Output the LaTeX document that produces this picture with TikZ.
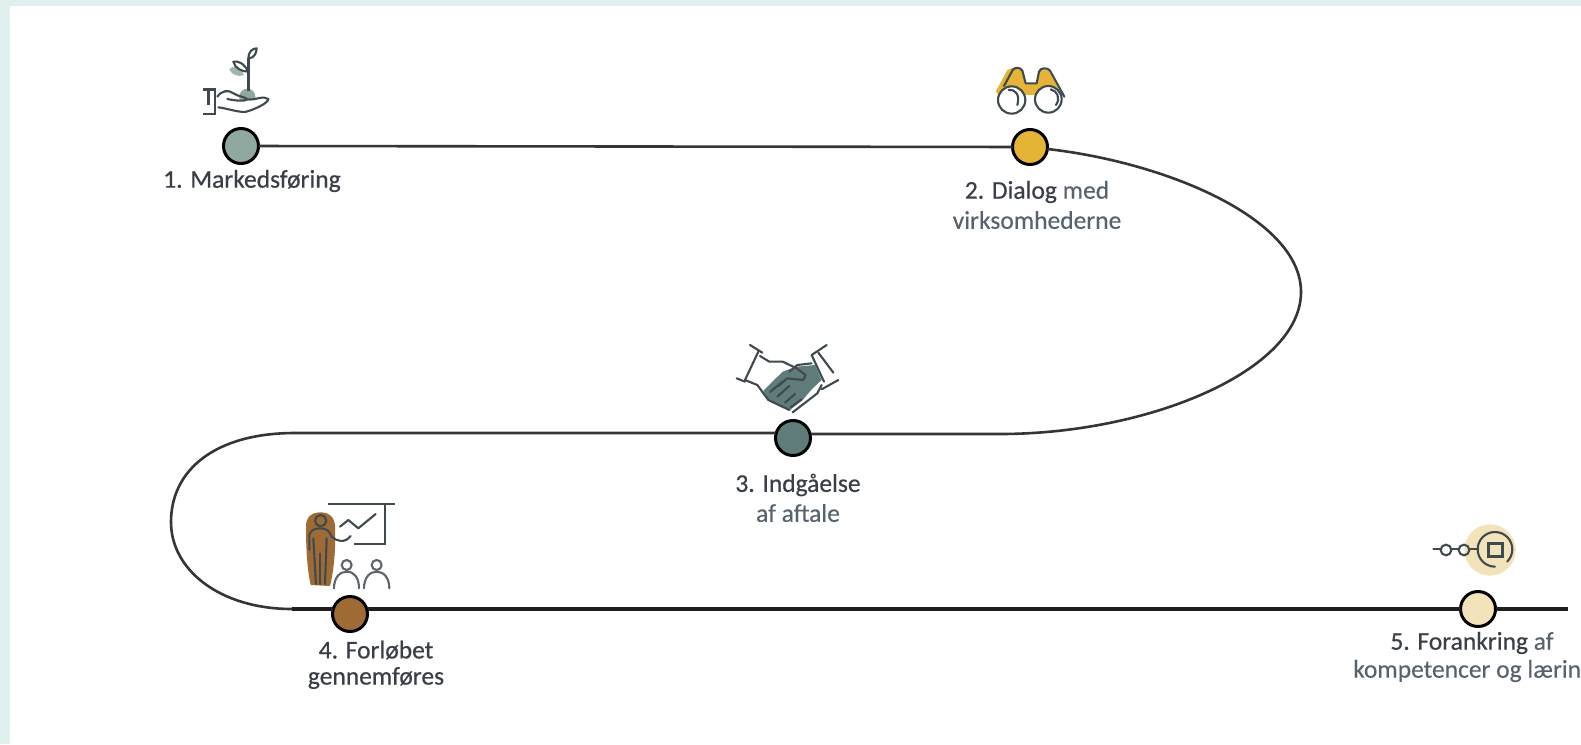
\documentclass[tikz,border=0pt]{standalone}
\usepackage{fontspec}
\setmainfont{Carlito}
\newfontfamily\handA{Carlito}[FakeBold=0.5]
\newfontfamily\handB{Carlito}[FakeBold=0.2]
\definecolor{bgteal}{HTML}{DFF0EE}
\definecolor{inkline}{HTML}{333536}
\definecolor{icon}{HTML}{3F4A4E}
\definecolor{txtA}{HTML}{3A3F47}
\definecolor{txtB}{HTML}{56626E}
\definecolor{sage}{HTML}{8FA8A0}
\definecolor{gold}{HTML}{E5B437}
\definecolor{petrol}{HTML}{5F7C7B}
\definecolor{brown}{HTML}{9E6B35}
\definecolor{cream}{HTML}{F3E3BA}
\tikzset{
  stage/.style={circle,draw=black,line width=3pt,minimum size=35pt,inner sep=0pt,outer sep=0pt},
  thinroute/.style={draw=inkline,line width=2.6pt},
  thickroute/.style={draw=black!88,line width=4.2pt},
  ic/.style={draw=icon,line width=2.1pt,line cap=round,line join=round},
  icb/.style={draw=icon,line width=2.9pt,line join=miter},
  lab/.style={font=\fontsize{25.5}{28}\selectfont,inner sep=0pt,anchor=center}
}
\newcommand{\SA}[1]{\textcolor{txtA}{\handA #1}}
\newcommand{\SB}[1]{\textcolor{txtB}{\handB #1}}
\begin{document}
\begin{tikzpicture}[x=1pt,y=-1pt]
\useasboundingbox (0,0) rectangle (1581,744);
\clip (0,0) rectangle (1581,744);
\fill[bgteal] (0,0) rectangle (1581,744);
\fill[white] (10,6) rectangle (1581,744);

% stages
\node[stage,fill=sage]   (n1) at (241,146) {};
\node[stage,fill=gold]   (n2) at (1030,147) {};
\node[stage,fill=petrol] (n3) at (793,438) {};
\node[stage,fill=brown]  (n4) at (350,614) {};
\node[stage,fill=cream]  (n5) at (1478,609) {};

% route
\coordinate (r1) at (1301,292);
\coordinate (r2) at (1000,434);
\coordinate (l0) at (295,433);
\coordinate (l1) at (171,522);
\coordinate (l2) at (292,609);
\coordinate (endp) at (1568,609);
\draw[thinroute] (n1) -- (n2);
\draw[thinroute] (n2) .. controls (1170,163) and (1301,220) .. (r1)
   .. controls (1301,370) and (1150,434) .. (r2) -- (r2 -| n3.east);
\draw[thinroute] (l0 -| n3.west) -- (l0)
   .. controls (215,433) and (171,470) .. (l1)
   .. controls (171,570) and (220,609) .. (l2);
\draw[thickroute,line cap=butt] (l2) -- (l2 -| n4.west);
\draw[thickroute] (l2 -| n4.east) -- (n5);
\draw[thickroute] (n5) -- (endp);

% labels
\node[lab] (t1) at (252,181) {\SA{1. Markedsføring}};
\node[lab] (t2a) at (1037,192) {\SA{2. Dialog} \SB{med}};
\node[lab] (t2b) at (1037,220) {\SB{virksomhederne}};
\node[lab] (t3a) at (798,485) {\SA{3. Indgåelse}};
\node[lab] (t3b) at (798,513) {\SB{af aftale}};
\node[lab] (t4a) at (376,650) {\SA{4. Forløbet}};
\node[lab] (t4b) at (376,678) {\SA{gennemføres}};
\node[lab] (t5a) at (1472,643) {\SA{5. Forankring} \SB{af}};
\node[lab,anchor=west] (t5b) at (1353,671) {\SB{kompetencer og læring}};

% icon 1: plant in a hand
\begin{scope}[shift={(140,30)},x=0.3333pt,y=-0.3333pt]
  \fill[sage!85] (268,118) .. controls (285,100) and (305,115) .. (312,135) .. controls (295,142) and (275,135) .. (268,118) -- cycle;
  \fill[sage] (298,200) arc[start angle=180,end angle=360,radius=24] -- (346,205) -- (298,212) -- cycle;
  \draw[icon,line width=2.8pt] (325,182) -- (325,85);
  \draw[ic] (325,85) .. controls (325,65) and (338,55) .. (350,55) .. controls (350,70) and (342,85) .. (325,85) -- cycle;
  \draw[ic] (325,125) .. controls (312,100) and (295,92) .. (280,95) .. controls (285,115) and (305,125) .. (325,125) -- cycle;
  \draw[icb] (190,178) -- (225,178) -- (225,252) -- (190,252);
  \draw[icon,line width=3pt] (205,178) -- (205,225);
  \draw[ic] (232,200) .. controls (245,182) and (265,178) .. (280,190) .. controls (295,200) and (315,200) .. (322,208) .. controls (315,215) and (285,212) .. (262,207);
  \draw[ic] (322,208) .. controls (345,212) and (370,195) .. (385,207) .. controls (385,220) and (340,240) .. (315,246) .. controls (290,246) and (260,235) .. (235,232);
\end{scope}

% icon 2: binoculars
\begin{scope}[shift={(930,50)},x=0.3333pt,y=-0.3333pt]
  \fill[gold] (197,125) -- (232,60) .. controls (250,50) and (272,50) .. (280,65) -- (288,100) -- (318,100) -- (325,65) .. controls (332,55) and (350,55) .. (358,65) -- (385,115) -- (355,135) -- (300,135) -- (265,135) -- (225,150) -- cycle;
  \draw[ic,fill=white] (245,150) circle[radius=41];
  \draw[ic,fill=white] (355,148) circle[radius=40];
  \draw[ic] (222,108) -- (248,60) .. controls (255,50) and (272,52) .. (277,62) -- (287,100) -- (320,100) -- (327,65) .. controls (332,52) and (352,52) .. (360,62) -- (403,140);
  \draw[ic] (236,120) .. controls (258,118) and (270,135) .. (262,165);
  \draw[ic] (362,118) .. controls (382,122) and (392,145) .. (378,165);
\end{scope}

% icon 3: handshake
\begin{scope}[shift={(700,330)},x=0.3333pt,y=-0.3333pt]
  \fill[petrol] (190,182) -- (248,125) -- (290,110) -- (345,105) -- (365,150) -- (335,178) -- (308,210) -- (270,240) -- (205,210) -- cycle;
  \draw[ic] (150,45) -- (187,68);
  \draw[ic] (110,145) -- (135,155);
  \draw[ic] (175,65) -- (135,150);
  \draw[ic] (180,78) -- (208,95) -- (248,95) -- (290,115) -- (317,135) -- (310,150) -- (262,145) -- (235,168);
  \draw[ic] (135,150) -- (172,165) -- (205,210) -- (268,240);
  \draw[ic] (210,186) -- (248,155);
  \draw[ic] (232,200) -- (268,168);
  \draw[ic] (255,218) -- (285,192);
  \draw[ic] (272,232) -- (305,208);
  \draw[ic] (380,45) -- (335,75);
  \draw[ic] (335,75) -- (372,155);
  \draw[ic] (355,68) -- (400,128);
  \draw[ic] (415,150) -- (365,178);
  \draw[ic] (335,100) -- (292,105) -- (268,125);
  \draw[ic] (365,165) -- (352,190) -- (278,247);
\end{scope}

% icon 4: presenter
\begin{scope}[shift={(280,490)},x=0.3333pt,y=-0.3333pt]
  \fill[brown] (122,67) .. controls (90,67) and (78,85) .. (78,110) .. controls (78,180) and (82,240) .. (92,285) -- (150,288) .. controls (162,240) and (168,170) .. (165,110) .. controls (165,85) and (150,67) .. (122,67) -- cycle;
  \draw[icb] (143,42) -- (345,42);
  \draw[icb] (315,42) -- (315,162) -- (222,162);
  \draw[ic] (180,110) -- (205,90) -- (235,115) -- (287,72);
  \draw[ic] (122,92) circle[radius=17];
  \draw[ic] (88,180) -- (88,135) .. controls (92,120) and (105,115) .. (122,115) .. controls (140,115) and (150,125) .. (155,140) .. controls (170,155) and (195,160) .. (212,138);
  \draw[ic] (100,145) -- (108,282);
  \draw[ic] (120,190) -- (120,282);
  \draw[ic] (140,145) -- (135,282);
  \draw[ic,draw=icon!85] (200,225) circle[radius=15];
  \draw[ic,draw=icon!85] (290,225) circle[radius=15];
  \draw[ic,draw=icon!85] (162,295) .. controls (162,262) and (180,245) .. (200,245) .. controls (222,245) and (237,262) .. (237,295);
  \draw[ic,draw=icon!85] (252,295) .. controls (252,262) and (270,245) .. (290,245) .. controls (310,245) and (328,262) .. (328,295);
\end{scope}

% icon 5: anchoring
\begin{scope}[shift={(1340,510)},x=0.3333pt,y=-0.3333pt]
  \fill[cream] (450,120) circle[radius=77];
  \draw[ic] (280,118) -- (302,118);
  \draw[ic] (334,118) -- (356,118);
  \draw[ic] (388,118) -- (415,118);
  \draw[ic] (318,120) circle[radius=16];
  \draw[ic] (372,120) circle[radius=16];
  \draw[ic] (465,170) arc[start angle=90,end angle=405,radius=52];
  \draw[icb] (445,100) rectangle (488,140);
\end{scope}
\end{tikzpicture}
\end{document}
